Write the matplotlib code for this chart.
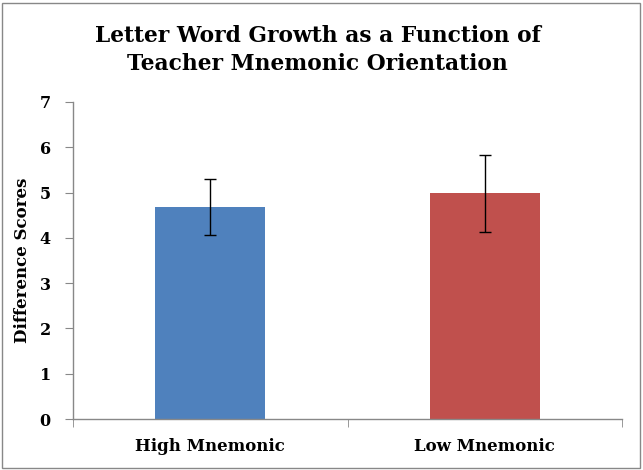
import matplotlib
matplotlib.use("Agg")
import matplotlib.pyplot as plt
from matplotlib.patches import Rectangle

categories = ["High Mnemonic", "Low Mnemonic"]
values = [4.68, 4.98]
errors = [0.61, 0.84]
colors = ["#4F81BD", "#C0504D"]
yticks = [0, 1, 2, 3, 4, 5, 6, 7]

plt.rcParams['font.family'] = ['DejaVu Serif']
plt.rcParams['font.weight'] = 'bold'

fig = plt.figure(figsize=(6.43, 4.70), dpi=100)
ax = fig.add_axes([73/643, (470-419)/470, (622-73)/643, (419-102)/470])

x = list(range(len(categories)))
ax.bar(x, values, width=0.40, color=colors, yerr=errors,
       error_kw=dict(ecolor='black', elinewidth=1.0, capsize=4, capthick=1.0))
ax.set_xlim(-0.5, 1.5)
ax.set_ylim(0, 7)
ax.set_yticks(yticks)
ax.set_yticklabels([str(t) for t in yticks], fontsize=11.5, fontweight='bold')
ax.set_xticks(x)
ax.set_xticklabels(categories, fontsize=12, fontweight='bold')
ax.set_xticks([-0.5, 0.5, 1.5], minor=True)
ax.tick_params(axis='x', which='major', length=0, pad=14)
ax.tick_params(axis='x', which='minor', length=6, color='#888888', direction='out')
ax.tick_params(axis='y', length=6, color='#888888', direction='out', pad=10)
for s in ['top', 'right']:
    ax.spines[s].set_visible(False)
for s in ['left', 'bottom']:
    ax.spines[s].set_color('#888888')
    ax.spines[s].set_linewidth(1.0)

ax.set_ylabel("Difference Scores", fontsize=12, fontweight='bold', labelpad=6)
fig.text(0.494, 1 - 50/470, "Letter Word Growth as a Function of\nTeacher Mnemonic Orientation",
         ha='center', va='center', fontsize=15.7, fontweight='bold', linespacing=1.4)

fig.patches.append(Rectangle((2/643, 2/470), 638/643, 465/470, transform=fig.transFigure,
                             fill=False, edgecolor='#888888', linewidth=1.0))
fig.savefig("out.png", dpi=100)
